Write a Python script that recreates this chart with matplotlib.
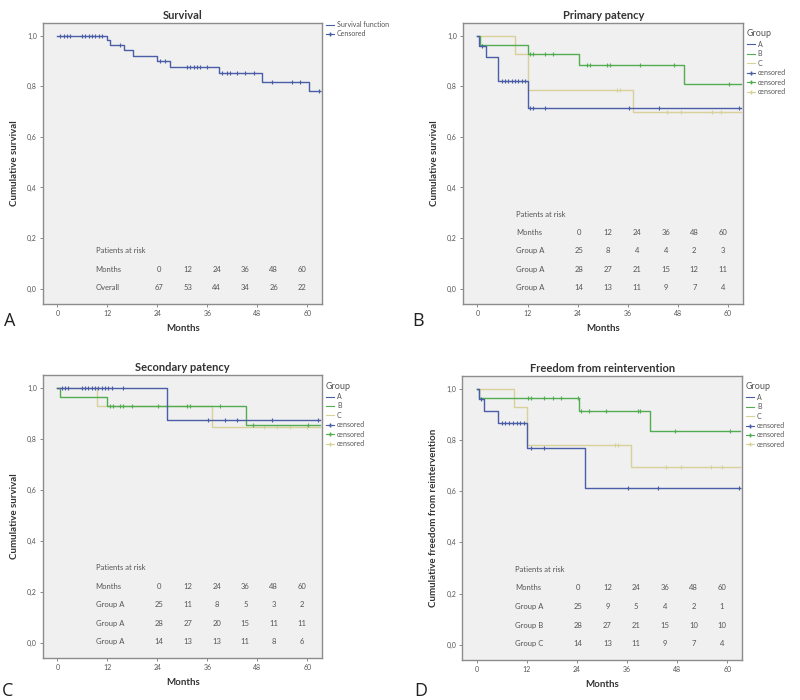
import numpy as np
import matplotlib
matplotlib.use("Agg")
import matplotlib.pyplot as plt
from matplotlib.lines import Line2D

plt.rcParams.update({
    "font.family": ["Lato", "DejaVu Sans"],
    "font.size": 6,
})

BLUE = "#4a5ea8"
GREEN = "#52ad52"
BEIGE = "#d8d19a"
GREY_TXT = "#555555"

# --- Panel A: overall survival
a_t = [0, 11.9, 12.7, 15.9, 18.2, 23.9, 27.1, 38.7, 49.1, 60.3]
a_s = [1.0, 0.982, 0.964, 0.943, 0.921, 0.901, 0.877, 0.853, 0.819, 0.783]
a_cens = [0.7, 1.5, 2.3, 3.1, 5.9, 6.7, 7.5, 8.3, 9.1, 9.9, 10.7, 15.1, 24.7, 25.9,
          31.1, 31.9, 32.7, 33.5, 34.3, 35.9, 39.5, 40.7, 41.5, 43.1, 45.1, 47.1,
          51.5, 56.3, 58.3, 62.7]

# --- Panel B: primary patency
b_a_t = [0, 0.5, 2.0, 5.0, 12.0]
b_a_s = [1.0, 0.96, 0.916, 0.82, 0.714]
b_a_cens = [1.0, 5.8, 6.6, 7.4, 8.2, 9.0, 9.8, 10.6, 11.4, 12.6, 13.4, 16.2, 36.2, 43.4, 62.6]
b_b_t = [0, 0.6, 12.0, 24.2, 49.4]
b_b_s = [1.0, 0.964, 0.929, 0.884, 0.809]
b_b_cens = [12.6, 13.4, 16.2, 18.2, 26.2, 27.0, 31.0, 31.8, 39.0, 47.0, 60.2]
b_c_t = [0, 9.0, 12.0, 37.2]
b_c_s = [1.0, 0.929, 0.787, 0.698]
b_c_cens = [33.4, 34.2, 45.4, 48.6, 56.2, 58.2]

# --- Panel C: secondary patency
c_a_t = [0, 26.2]
c_a_s = [1.0, 0.874]
c_a_cens = [1.0, 1.8, 2.6, 5.8, 6.6, 7.4, 8.2, 9.0, 9.8, 10.6, 11.4, 12.2, 13.0, 15.8,
            36.2, 40.2, 43.0, 51.4, 62.6]
c_b_t = [0, 0.6, 11.8, 45.2]
c_b_s = [1.0, 0.966, 0.929, 0.855]
c_b_cens = [12.6, 13.4, 15.0, 15.8, 17.8, 24.2, 26.2, 31.0, 31.8, 39.0, 47.0, 60.2]
c_c_t = [0, 9.5, 37.0]
c_c_s = [1.0, 0.929, 0.845]
c_c_cens = [49.5, 52.7, 55.9, 59.9]

# --- Panel D: freedom from reintervention
d_a_t = [0, 0.5, 1.8, 5.1, 12.0, 26.0]
d_a_s = [1.0, 0.961, 0.913, 0.865, 0.768, 0.614]
d_a_cens = [1.0, 6.0, 6.9, 7.8, 8.7, 9.6, 10.5, 11.4, 13.0, 16.2, 36.2, 43.4, 62.9]
d_b_t = [0, 0.5, 24.6, 41.4]
d_b_s = [1.0, 0.964, 0.913, 0.834]
d_b_cens = [12.2, 13.0, 16.2, 18.2, 20.2, 24.2, 25.0, 27.0, 31.0, 38.6, 39.0, 47.4, 60.6]
d_c_t = [0, 9.0, 12.0, 37.0]
d_c_s = [1.0, 0.927, 0.782, 0.696]
d_c_cens = [33.0, 33.8, 45.4, 49.0, 56.2, 58.6]

END = 63.0

# --- patients at risk tables
risk_months = [0, 12, 24, 36, 48, 60]
risk_a_labels = ["Overall"]
risk_a = [[67, 53, 44, 34, 26, 22]]
risk_b_labels = ["Group A", "Group A", "Group A"]
risk_b = [[25, 8, 4, 4, 2, 3], [28, 27, 21, 15, 12, 11], [14, 13, 11, 9, 7, 4]]
risk_c_labels = ["Group A", "Group A", "Group A"]
risk_c = [[25, 11, 8, 5, 3, 2], [28, 27, 20, 15, 11, 11], [14, 13, 13, 11, 8, 6]]
risk_d_labels = ["Group A", "Group B", "Group C"]
risk_d = [[25, 9, 5, 4, 2, 1], [28, 27, 21, 15, 10, 10], [14, 13, 11, 9, 7, 4]]

table_cols = [24.3, 31.3, 38.2, 45.1, 51.9, 58.7]


def km(ax, t, s, cens, color, lw=1.0):
    x = list(t) + [END]
    y = list(s) + [s[-1]]
    ax.step(x, y, where="post", color=color, lw=lw)
    idx = np.searchsorted(t, cens, side="right") - 1
    ax.plot(cens, np.array(s)[idx], ls="none", marker="+", ms=3.5, mew=0.8, color=color)


def style(ax, title, ylabel):
    ax.set_facecolor("#f0f0f0")
    ax.set_xlim(-3.4, 63.6)
    ax.set_ylim(-0.06, 1.05)
    ax.set_xticks([0, 12, 24, 36, 48, 60])
    ax.set_yticks([0, 0.2, 0.4, 0.6, 0.8, 1.0])
    ax.set_yticklabels(["0,0", "0,2", "0,4", "0,6", "0,8", "1,0"])
    ax.tick_params(length=2.5, width=0.6, color="#777777", labelsize=5, labelcolor=GREY_TXT, pad=2)
    for sp in ax.spines.values():
        sp.set_color("#8c8c8c")
        sp.set_linewidth(1.0)
    ax.set_title(title, fontsize=8, fontweight="bold", color="#333333", pad=3)
    ax.set_xlabel("Months", fontsize=7, fontweight="bold", color="#333333", labelpad=5)
    ax.set_ylabel(ylabel, fontsize=7, fontweight="bold", color="#333333", labelpad=6)


def risk_table(ax, labels, rows):
    n = len(rows)
    ys = [0.003 + 0.073 * (n + 1 - i) for i in range(n + 2)]
    ax.text(9.2, ys[0], "Patients at risk", fontsize=5.5, color=GREY_TXT, va="center")
    ax.text(9.2, ys[1], "Months", fontsize=5.5, color=GREY_TXT, va="center")
    for xc, m in zip(table_cols, risk_months):
        ax.text(xc, ys[1], str(m), fontsize=5.5, color=GREY_TXT, va="center", ha="center")
    for i, (lab, row) in enumerate(zip(labels, rows)):
        y = ys[i + 2]
        ax.text(9.2, y, lab, fontsize=5.5, color=GREY_TXT, va="center")
        for xc, v in zip(table_cols, row):
            ax.text(xc, y, str(v), fontsize=5.5, color=GREY_TXT, va="center", ha="center")


def group_legend(ax):
    handles = [Line2D([], [], color=BLUE, lw=0.8), Line2D([], [], color=GREEN, lw=0.8),
               Line2D([], [], color=BEIGE, lw=0.8),
               Line2D([], [], color=BLUE, lw=0.8, marker="+", ms=3.5),
               Line2D([], [], color=GREEN, lw=0.8, marker="+", ms=3.5),
               Line2D([], [], color=BEIGE, lw=0.8, marker="+", ms=3.5)]
    leg = ax.legend(handles, ["A", "B", "C", "censored", "censored", "censored"],
                    title="Group", loc="upper left", bbox_to_anchor=(1.0, 0.99),
                    frameon=False, fontsize=5, title_fontsize=6.5, handlelength=1.2,
                    handletextpad=0.4, labelspacing=0.35, borderaxespad=0.1)
    leg._legend_box.align = "left"
    for t in leg.get_texts():
        t.set_color(GREY_TXT)
    leg.get_title().set_color(GREY_TXT)


fig = plt.figure(figsize=(8, 7), dpi=100)

axA = fig.add_axes([0.054, 0.566, 0.349, 0.401])
axB = fig.add_axes([0.579, 0.566, 0.350, 0.401])
axC = fig.add_axes([0.054, 0.060, 0.349, 0.404])
axD = fig.add_axes([0.578, 0.057, 0.350, 0.406])

# A
km(axA, a_t, a_s, a_cens, BLUE)
style(axA, "Survival", "Cumulative survival")
risk_table(axA, risk_a_labels, risk_a)
hA = [Line2D([], [], color=BLUE, lw=0.8), Line2D([], [], color=BLUE, lw=0.8, marker="+", ms=3.5)]
legA = axA.legend(hA, ["Survival function", "Censored"], loc="upper left",
                  bbox_to_anchor=(1.0, 1.02), frameon=False, fontsize=5, handlelength=1.2,
                  handletextpad=0.4, labelspacing=0.3, borderaxespad=0.1)
for t in legA.get_texts():
    t.set_color(GREY_TXT)

# B
km(axB, b_c_t, b_c_s, b_c_cens, BEIGE)
km(axB, b_b_t, b_b_s, b_b_cens, GREEN)
km(axB, b_a_t, b_a_s, b_a_cens, BLUE)
style(axB, "Primary patency", "Cumulative survival")
risk_table(axB, risk_b_labels, risk_b)
group_legend(axB)

# C
km(axC, c_c_t, c_c_s, c_c_cens, BEIGE)
km(axC, c_b_t, c_b_s, c_b_cens, GREEN)
km(axC, c_a_t, c_a_s, c_a_cens, BLUE)
style(axC, "Secondary patency", "Cumulative survival")
risk_table(axC, risk_c_labels, risk_c)
group_legend(axC)

# D
km(axD, d_c_t, d_c_s, d_c_cens, BEIGE)
km(axD, d_b_t, d_b_s, d_b_cens, GREEN)
km(axD, d_a_t, d_a_s, d_a_cens, BLUE)
style(axD, "Freedom from reintervention", "Cumulative freedom from reintervention")
risk_table(axD, risk_d_labels, risk_d)
group_legend(axD)

# panel letters
for x, y, letter in [(0.005, 0.535, "A"), (0.515, 0.535, "B"), (0.002, 0.006, "C"), (0.518, 0.006, "D")]:
    fig.text(x, y, letter, fontsize=13, color="#222222", family=["Open Sans", "DejaVu Sans"])

fig.savefig("out.png", dpi=100, facecolor="white")
